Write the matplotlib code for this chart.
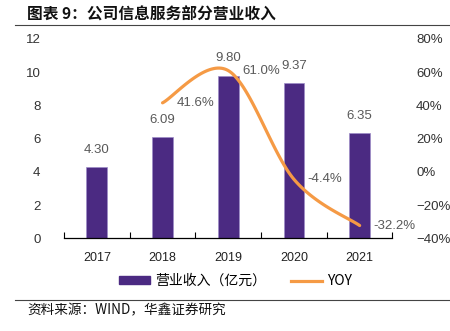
import numpy as np
import matplotlib
matplotlib.use("Agg")
import matplotlib.pyplot as plt
from matplotlib import font_manager
from matplotlib.lines import Line2D
from matplotlib.patches import Patch

years = ["2017", "2018", "2019", "2020", "2021"]
revenue = [4.30, 6.09, 9.80, 9.37, 6.35]          # 营业收入（亿元）
yoy_years = ["2018", "2019", "2020", "2021"]
yoy = [41.6, 61.0, -4.4, -32.2]                    # YOY, %
left_ticks = [0, 2, 4, 6, 8, 10, 12]
right_ticks = [-40, -20, 0, 20, 40, 60, 80]

title = "图表 9：公司信息服务部分营业收入"
source = "资料来源：WIND，华鑫证券研究"
legend_bar = "营业收入（亿元）"
legend_line = "YOY"

BAR = "#4B2A82"
ORANGE = "#F59A45"
LABEL = "#595959"
TICK = "#333333"

installed = {f.name for f in font_manager.fontManager.ttflist}
narrow = "Liberation Sans Narrow" if "Liberation Sans Narrow" in installed else "Liberation Sans"
CJK = ["Noto Sans CJK SC", "DejaVu Sans"]
LAT = ["Liberation Sans", "DejaVu Sans"]

fig = plt.figure(figsize=(4.5, 3.31), dpi=100)
ax = fig.add_axes([0.1422, 0.2795, 0.7300, 0.6027])
ax2 = ax.twinx()

x = np.arange(len(years))
ax.bar(x, revenue, width=0.315, color=BAR, edgecolor="#9E8CC8", linewidth=0.5, zorder=2)
for xi, v in zip(x, revenue):
    ax.annotate(f"{v:.2f}", (xi, v), xytext=(0, 8), textcoords="offset points",
                ha="center", va="bottom", fontsize=9.5, color=LABEL, family=LAT)

ax.set_xlim(-0.5, len(years) - 0.5)
ax.set_ylim(0, 12)
ax.set_yticks(left_ticks)
ax.set_yticklabels([str(t) for t in left_ticks], family=[narrow, "DejaVu Sans"],
                   fontsize=9.5, color=TICK)
ax.set_xticks(x)
ax.set_xticklabels(years, family=LAT, fontsize=9, color="#222222")
ax.set_xticks(np.arange(-0.5, len(years)), minor=True)
ax.tick_params(axis="x", which="major", length=0, pad=10)
ax.tick_params(axis="x", which="minor", direction="in", length=4, width=0.8, color="black")
ax.tick_params(axis="y", length=0, pad=17)
for s in ("top", "left", "right"):
    ax.spines[s].set_visible(False)
ax.spines["bottom"].set_linewidth(0.9)

ax2.set_ylim(-40, 80)
ax2.set_yticks(right_ticks)
ax2.set_yticklabels([f"{t}%".replace("-", "\u2212") for t in right_ticks],
                    family=[narrow, "DejaVu Sans"], fontsize=9.5, color=TICK)
ax2.tick_params(axis="y", length=0, pad=17)
for s in ("top", "left", "right", "bottom"):
    ax2.spines[s].set_visible(False)

# smoothed YOY curve (Catmull-Rom Bezier in display space)
xy = np.array([[years.index(y), v] for y, v in zip(yoy_years, yoy)], dtype=float)
P = ax2.transData.transform(xy)
curve = []
n = len(P)
for i in range(n - 1):
    p0 = P[i - 1] if i > 0 else P[i]
    p1, p2 = P[i], P[i + 1]
    p3 = P[i + 2] if i + 2 < n else P[i + 1]
    c1 = p1 + (p2 - p0) / 6
    c2 = p2 - (p3 - p1) / 6
    t = np.linspace(0, 1, 40)[:, None]
    seg = (1 - t) ** 3 * p1 + 3 * (1 - t) ** 2 * t * c1 + 3 * (1 - t) * t ** 2 * c2 + t ** 3 * p2
    curve.append(seg if i == 0 else seg[1:])
curve = ax2.transData.inverted().transform(np.vstack(curve))
ax2.plot(curve[:, 0], curve[:, 1], color=ORANGE, lw=2.3, solid_capstyle="round", zorder=3)
for (xi, v) in xy:
    ax2.annotate(f"{v:.1f}%", (xi, v), xytext=(10, 0), textcoords="offset points",
                 ha="left", va="center", fontsize=9.5, color=LABEL, family=LAT)

# title, rules, legend and source
fig.text(27 / 450, 1 - 15 / 331, title, family=CJK, fontsize=11.3, fontweight="bold",
         ha="left", va="center", color="#111111")
fig.add_artist(Line2D([15 / 450, 1], [1 - 25 / 331] * 2, color="#444444", lw=0.8))
fig.add_artist(Line2D([15 / 450, 1], [1 - 300 / 331] * 2, color="#444444", lw=0.8))
fig.text(27 / 450, 1 - 310 / 331, source, family=CJK, fontsize=9.8, ha="left", va="center",
         color="#111111")

handles = [Patch(facecolor=BAR, edgecolor=BAR),
           Line2D([], [], color=ORANGE, lw=2.3)]
fig.legend(handles, [legend_bar, legend_line], loc="center", bbox_to_anchor=(0.524, 1 - 281 / 331),
           ncol=2, frameon=False, prop={"family": CJK, "size": 10}, handlelength=2.2,
           handleheight=0.45, columnspacing=1.8, handletextpad=0.4, borderpad=0)

fig.savefig("out.png", dpi=100)
